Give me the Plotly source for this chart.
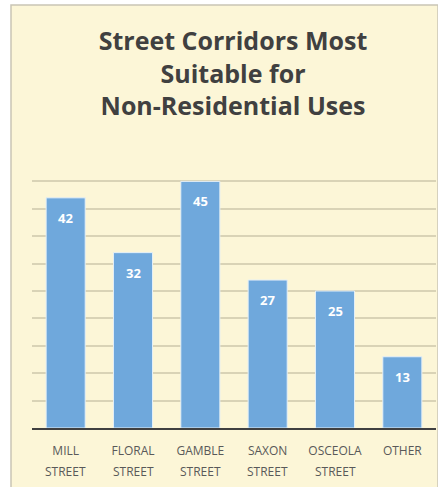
import plotly.graph_objects as go

categories = ["MILL", "FLORAL", "GAMBLE", "SAXON", "OSCEOLA", "OTHER"]
second_line = ["STREET", "STREET", "STREET", "STREET", "STREET", ""]
values = [42, 32, 45, 27, 25, 13]
title_lines = ["Street Corridors Most", "Suitable for", "Non-Residential Uses"]

W, H = 438, 487
L, R, T, B = 32, 2, 154, 59
panel = "#FCF6D7"

fig = go.Figure()
fig.add_trace(go.Bar(
    x=categories, y=values,
    marker=dict(color="#6FA8DC", line=dict(color="#E4EFF7", width=1)),
    width=0.58, hoverinfo="skip",
))

annotations = []
for c, v in zip(categories, values):
    annotations.append(dict(x=c, y=v, xref="x", yref="y", text=f"<b>{v}</b>",
                            showarrow=False, yshift=-20,
                            font=dict(family="Open Sans", size=13, color="white")))
for c, s in zip(categories, second_line):
    if s:
        annotations.append(dict(x=c, y=-0.16, xref="x", yref="paper", text=s,
                                showarrow=False, yanchor="middle",
                                font=dict(family="Open Sans", size=12, color="#595959")))

fig.update_layout(
    width=W, height=H,
    margin=dict(l=L, r=R, t=T, b=B),
    paper_bgcolor="white", plot_bgcolor=panel,
    showlegend=False,
    title=dict(text="<b>" + "<br>".join(title_lines) + "</b>",
               x=233 / W, xanchor="center", y=1 - 50 / H, yanchor="top",
               font=dict(family="Open Sans", size=25, color="#404040")),
    xaxis=dict(showline=True, linecolor="#404040", linewidth=2, ticks="",
               ticklabelstandoff=11,
               tickfont=dict(family="Open Sans", size=12, color="#595959"),
               showgrid=False, fixedrange=True),
    yaxis=dict(range=[0, 50], dtick=5, showticklabels=False, showgrid=True,
               gridcolor="#D9D3B6", gridwidth=1.5, zeroline=False, showline=False,
               fixedrange=True),
    annotations=annotations,
    shapes=[dict(type="rect", xref="paper", yref="paper", layer="below",
                 x0=-(L - 11) / (W - L - R), x1=1 + R / (W - L - R),
                 y0=-(B + 2) / (H - T - B), y1=1 + (T - 5) / (H - T - B),
                 fillcolor=panel, line=dict(color="#C9C5B5", width=1.5))],
)
fig.write_html("out.html", config={"displayModeBar": False},
               post_script="document.body.style.margin='0';")
